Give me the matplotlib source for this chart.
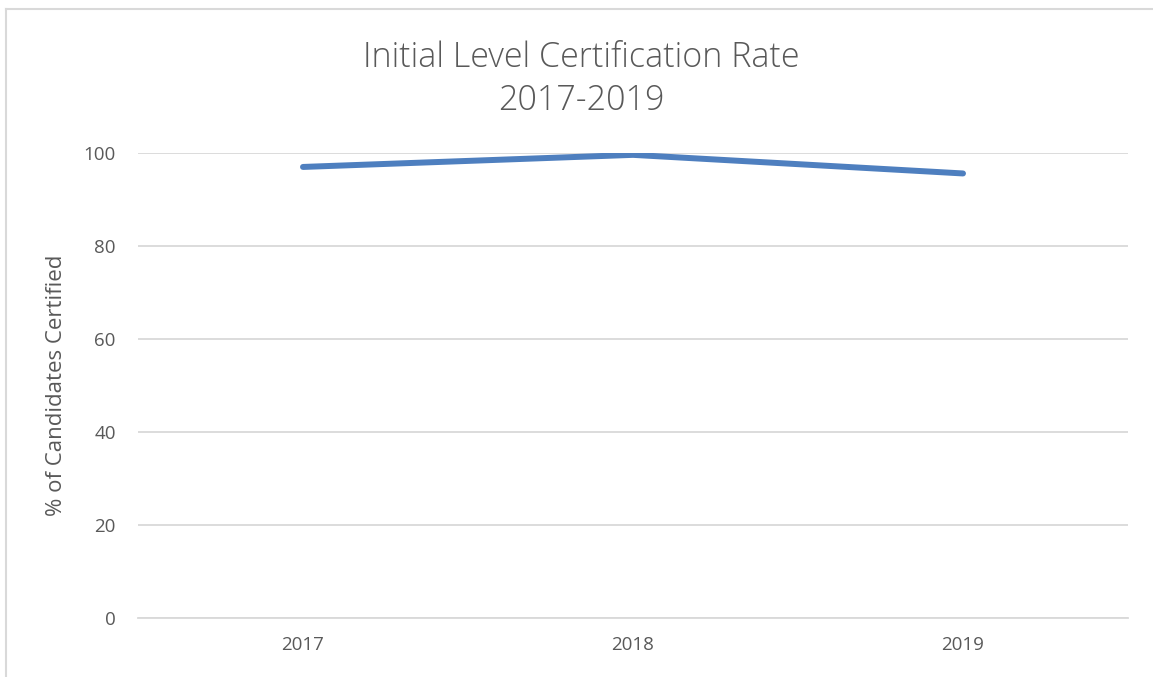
import matplotlib
matplotlib.use("Agg")
import matplotlib.pyplot as plt
from matplotlib.lines import Line2D

years = ["2017", "2018", "2019"]
rates = [97.0, 99.6, 95.6]
yticks = [0, 20, 40, 60, 80, 100]

plt.rcParams['font.family'] = ['Open Sans', 'DejaVu Sans']
W, H = 1153, 677
fig = plt.figure(figsize=(W/100, H/100), dpi=100)
ax = fig.add_axes([138/W, 1-618/H, (1128-138)/W, (618-153)/H])

x = list(range(len(years)))
ax.plot(x, rates, color='#4e7fbf', linewidth=4.3, solid_capstyle='round', zorder=3)
ax.set_xlim(-0.5, len(years)-0.5)
ax.set_ylim(0, 100)
ax.set_xticks(x)
ax.set_xticklabels(years)
ax.set_yticks(yticks)
ax.set_yticklabels([str(v) for v in yticks])
ax.tick_params(axis='both', length=0, labelsize=13.5, colors='#595959')
ax.tick_params(axis='x', pad=13)
ax.tick_params(axis='y', pad=16)
ax.grid(axis='y', color='#d9d9d9', linewidth=1.3)
ax.set_axisbelow(True)
for s in ['top', 'right', 'left']:
    ax.spines[s].set_visible(False)
ax.spines['bottom'].set_color('#d9d9d9')
ax.spines['bottom'].set_linewidth(1.3)
ax.set_ylabel('% of Candidates Certified', fontsize=16, color='#595959', labelpad=12)

fig.text(581/W, 1-58/H, 'Initial Level Certification Rate', ha='center', va='center',
         fontsize=24.5, color='#595959', fontweight='light')
fig.text(581/W, 1-101/H, '2017-2019', ha='center', va='center',
         fontsize=24.5, color='#595959', fontweight='light')

# outer chart border (partially visible)
fig.add_artist(Line2D([5.5/W, 5.5/W], [0, 1-8.5/H], transform=fig.transFigure, color='#d9d9d9', linewidth=1.5))
fig.add_artist(Line2D([5.5/W, 1], [1-8.5/H, 1-8.5/H], transform=fig.transFigure, color='#d9d9d9', linewidth=1.5))

fig.savefig('out.png', dpi=100)
